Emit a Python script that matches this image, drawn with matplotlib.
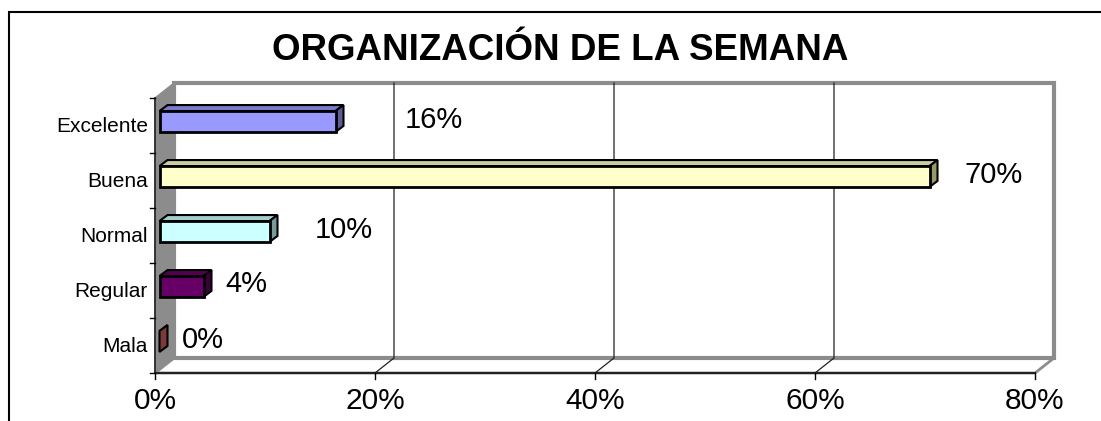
import numpy as np
import matplotlib
matplotlib.use("Agg")
import matplotlib.pyplot as plt
from matplotlib.patches import Polygon, Rectangle
from matplotlib.transforms import IdentityTransform

plt.rcParams['font.family'] = ['Liberation Sans', 'DejaVu Sans']

# data (bottom to top)
categorias = ["Mala", "Regular", "Normal", "Buena", "Excelente"]
valores = [0, 4, 10, 70, 16]
etiquetas = ["0%", "4%", "10%", "70%", "16%"]
ticks_x = [0, 20, 40, 60, 80]
ticks_x_lbl = ["0%", "20%", "40%", "60%", "80%"]

# colours: front, top, side
col_frente = ["#A65555", "#660066", "#CCFFFF", "#FFFFCC", "#9999FF"]
col_arriba = ["#8A4444", "#520052", "#A3CCCC", "#CCCCA3", "#7A7ACC"]
col_lado = ["#7A3A3A", "#3D003D", "#7A9999", "#999966", "#5C5C99"]
label_dx = [2.0, 2.0, 4.1, 3.2, 6.3]

W, H = 1101, 421
fig = plt.figure(figsize=(W / 100, H / 100), dpi=100)
ax = fig.add_axes([155 / W, (H - 373) / H, 880 / W, 275 / H])
ax.set_xlim(0, 80)
ax.set_ylim(-0.5, 4.5)
ax.axis("off")

T = ax.transData
ID = IdentityTransform()
back = np.array([19.0, 15.0])   # depth of the walls (display px)
bar_off = np.array([4.5, 4.0])  # bars sit a bit behind the front plane
bar_d = np.array([8.0, 6.0])    # bar depth
bh = 0.38


def P(x, y, off=(0, 0)):
    return T.transform((x, y)) + np.asarray(off)


def poly(pts, **kw):
    fig.patches.append(Polygon(pts, closed=True, transform=ID, figure=fig, **kw))


# outer frame
fig.patches.append(Rectangle((9, -10), W + 20, H - 12 + 10, transform=ID, figure=fig,
                             fill=False, ec="black", lw=1.5))

# left wall
poly([P(0, -0.5), P(0, 4.5), P(0, 4.5, back), P(0, -0.5, back)],
     fc="#8C8C8C", ec="#8C8C8C", lw=1)
# floor
poly([P(0, -0.5), P(80, -0.5), P(80, -0.5, back), P(0, -0.5, back)],
     fc="white", ec="#8C8C8C", lw=2)
# back wall
poly([P(0, -0.5, back), P(80, -0.5, back), P(80, 4.5, back), P(0, 4.5, back)],
     fc="white", ec="#8C8C8C", lw=3)

# gridlines on back wall and floor
for v in ticks_x[1:-1]:
    a, b, c = P(v, -0.5), P(v, -0.5, back), P(v, 4.5, back)
    fig.lines.append(plt.Line2D([a[0], b[0], c[0]], [a[1], b[1], c[1]],
                                transform=ID, color="#222222", lw=0.9))

# axes lines and ticks
a, b = P(0, -0.5), P(80, -0.5)
fig.lines.append(plt.Line2D([a[0], b[0]], [a[1], b[1]], transform=ID, color="#222222", lw=1.5))
a, b = P(0, -0.5), P(0, 4.5)
fig.lines.append(plt.Line2D([a[0], b[0]], [a[1], b[1]], transform=ID, color="#222222", lw=1.2))
for v, lbl in zip(ticks_x, ticks_x_lbl):
    a = P(v, -0.5)
    fig.lines.append(plt.Line2D([a[0], a[0]], [a[1], a[1] - 6], transform=ID, color="black", lw=1))
    fig.text(a[0] / W, (a[1] - 28) / H, lbl, ha="center", va="center", fontsize=21.5)
for k in range(len(categorias) + 1):
    a = P(0, k - 0.5)
    fig.lines.append(plt.Line2D([a[0] - 5, a[0]], [a[1], a[1]], transform=ID, color="black", lw=1))
for k, cat in enumerate(categorias):
    a = P(0, k)
    fig.text((a[0] - 7) / W, (a[1] - 1) / H, cat, ha="right", va="center", fontsize=15)

# bars
for k, v in enumerate(valores):
    y0, y1 = k - bh / 2, k + bh / 2
    f0, f1, f2, f3 = P(0, y0, bar_off), P(v, y0, bar_off), P(v, y1, bar_off), P(0, y1, bar_off)
    poly([f3, f2, f2 + bar_d, f3 + bar_d], fc=col_arriba[k], ec="black", lw=1.5, zorder=3)
    poly([f1, f1 + bar_d, f2 + bar_d, f2], fc=col_lado[k], ec="black", lw=1.5, zorder=3)
    if v > 0:
        poly([f0, f1, f2, f3], fc=col_frente[k], ec="black", lw=2, zorder=4)
    t = P(v + label_dx[k], k, bar_off)
    fig.text(t[0] / W, (t[1] + 2) / H, etiquetas[k], ha="left", va="center", fontsize=21)

fig.text(560 / W, (H - 50) / H, "ORGANIZACIÓN DE LA SEMANA", ha="center", va="center",
         fontsize=26.5, fontweight="bold")

fig.savefig("out.png", dpi=100)
